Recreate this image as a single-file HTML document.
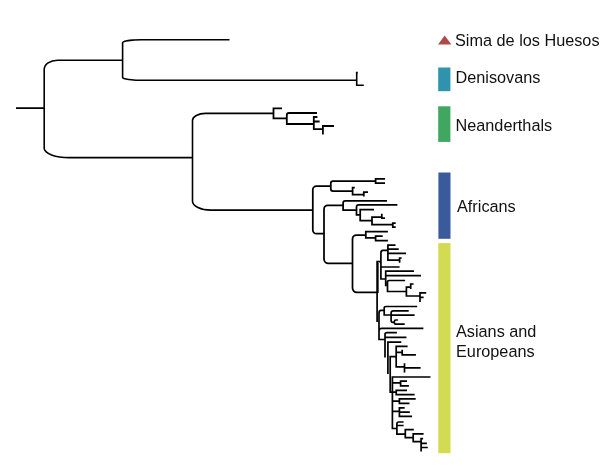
<!DOCTYPE html>
<html><head><meta charset="utf-8"><title>Phylogenetic tree</title>
<style>
html,body{margin:0;padding:0;background:#fff;}
body{width:611px;height:471px;overflow:hidden;position:relative;font-family:"Liberation Sans",Arial,Helvetica,sans-serif;}
svg{position:absolute;left:0;top:0;display:block;}
text{font-family:"Liberation Sans",Arial,Helvetica,sans-serif;font-size:16.25px;fill:#111;}
</style></head><body>
<svg width="611" height="471" viewBox="0 0 611 471">
<rect width="611" height="471" fill="#ffffff"/>
<path d="M16 108.1 H44.2 M122.6 60.2 H57.5 A13.3 9.3 0 0 0 44.2 69.5 V148.3 A25 9.3 0 0 0 69.2 157.6 H192.5 M229.5 39.8 H141.6 A19 3 0 0 0 122.6 42.8 V77.4 A22 2.8 0 0 0 144.6 80.3 H356.7 M357.8 72.6 H356.7 V85.3 H363.8 M273.5 113.4 H205.5 A13 7 0 0 0 192.5 120.4 V201.2 A18.2 9 0 0 0 210.7 210.1 H312.8" fill="none" stroke="#000" stroke-width="1.6" stroke-linecap="butt" stroke-linejoin="miter"/>
<path d="M282 108.3 H273.5 V118.3 H286.8 M317 113 H289 Q286.8 113 286.8 115 V124 H313.8 M317.4 117 H313.8 V129.2 H322.9 M313.8 121.5 H319.6 M334 126 H322.9 V134.5" fill="none" stroke="#000" stroke-width="1.8" stroke-linecap="butt" stroke-linejoin="miter"/>
<path d="M330.8 186 H316.5 A3.7 3.5 0 0 0 312.8 189.5 V230 A3.7 3.7 0 0 0 316.5 233.7 H324 M375.6 181.2 H333 Q330.8 181.2 330.8 183 V189 Q330.8 191 333 191 H352.6 M385 178.9 H375.6 V183 H385 M354.8 187.6 H352.6 V194.5 H363.8 M368 192 H363.8 V196.4 M343.1 205.3 H327.8 A3.8 3.8 0 0 0 324 209.1 V259 A4.3 4.3 0 0 0 328.3 263.3 H352.5 M387 200.8 H345.3 Q343.1 200.8 343.1 203 V210 H356.5 M397.4 204.8 H358.7 Q356.5 204.8 356.5 207 V214.9 H360.2 M374 209.5 H360.2 V220.6 H372 M381.8 217 H372 V224.7 H392.8 M381.8 213.8 V218.2 H385 M395.7 223.1 H392.8 V227.2 H395.7 M365.8 235 H356.5 A4 4 0 0 0 352.5 239 V288 A4.3 4.3 0 0 0 356.8 292.3 H377.1 M387.9 231.7 H365.8 V237.9 H375.6 M382.7 236 H375.6 V240.7 H387.9" fill="none" stroke="#000" stroke-width="1.75" stroke-linecap="butt" stroke-linejoin="miter"/>
<path d="M380.9 261.6 H377.1 V322 M377.8 263 V293 M387.9 250.4 H383 Q380.9 250.4 380.9 253 V279 H385.7 M395.5 245.1 H387.9 V260.1 H399.6 M387.9 249.2 H398.7 M387.9 253.4 H406 M401.7 258 H399.6 V262.7 M380.9 267 H399.6 M414 271.2 H385.7 V286.3 M385.7 275.6 H421 M405.1 280.5 H389 Q387.5 280.5 387.5 282 V291.5 H406.4 M410.2 287.1 H406.4 V296 H419.7 M413.6 284 H410.7 V289 M426.2 292.8 H420 V302 M420 297.4 H423.6 M384.1 310.4 H381 Q379 310.4 379 313 V339.5 H385.1 M417.2 306.5 H386 Q384.2 306.5 384.2 308 V315 H391.1 M408.7 310.9 H393.3 Q391.1 310.9 391.1 313 V320.6 Q391.1 322.3 393 322.3 H394.3 M391.1 315.2 H414.6 M397.9 320 H396 Q394.3 320 394.3 321.5 V322.5 Q394.3 324.2 396.5 324.2 H404.7 M379 330.5 Q379 328.4 382 328.4 H423.4 M396.9 332.7 H387 Q385 332.7 385 334.5 V357.4 M385 337.3 H406.4 M401.3 342.1 H387.9 V373.9 M396.2 356.7 H390.2 V392.2 H396.2 M407.6 346.3 H396.2 V366.9 H404.5 M396.2 352.3 H402.2 M402.2 349.7 V354.8 H415.9 M404.5 363.3 V372.6 M404.5 367.9 H420.6 M430.5 377 H392.4 V428.5 H396.9 M392.4 382.9 H400.6 M407 381.1 H400.6 V385.8 H408.9 M407 390.3 H396.2 V394.7 H414.6 M392.4 401.1 H399.4 M415.7 398.8 H399.4 V403.3 H409.5 M392.4 411.3 H399.4 M404.7 407.8 H399.4 V416.4 H412.1 M399.4 412.2 H409.8 M403.6 422 H398.5 Q396.9 422 396.9 424 V434.2 H405.3 M396.9 425.5 H403.6 M413.8 429.7 H405.3 V437.7 H413.2 M423.6 433.9 H413.2 V441.6 H421.1 M423.1 438.6 H421.1 V451.4 M421.1 443.3 H426.9 M421.1 447.5 H427.8" fill="none" stroke="#000" stroke-width="1.7" stroke-linecap="butt" stroke-linejoin="miter"/>
<polygon points="438,44.6 444.7,35.6 451.4,44.6" fill="#b04a4a"/>
<rect x="438.2" y="67.5" width="12.2" height="23.7" fill="#2f93ad"/>
<rect x="438.2" y="106.3" width="12.2" height="35.6" fill="#3fa75f"/>
<rect x="438.4" y="172.5" width="12.1" height="66.3" fill="#3b5a9b"/>
<rect x="438.3" y="243.1" width="12.2" height="210.1" fill="#d3db50"/>
<text x="455" y="45.6">Sima de los Huesos</text>
<text x="455.5" y="83.4">Denisovans</text>
<text x="455.5" y="131.3">Neanderthals</text>
<text x="457" y="211.5">Africans</text>
<text x="456" y="337.4">Asians and</text>
<text x="456" y="356.6">Europeans</text>
</svg>
</body></html>
